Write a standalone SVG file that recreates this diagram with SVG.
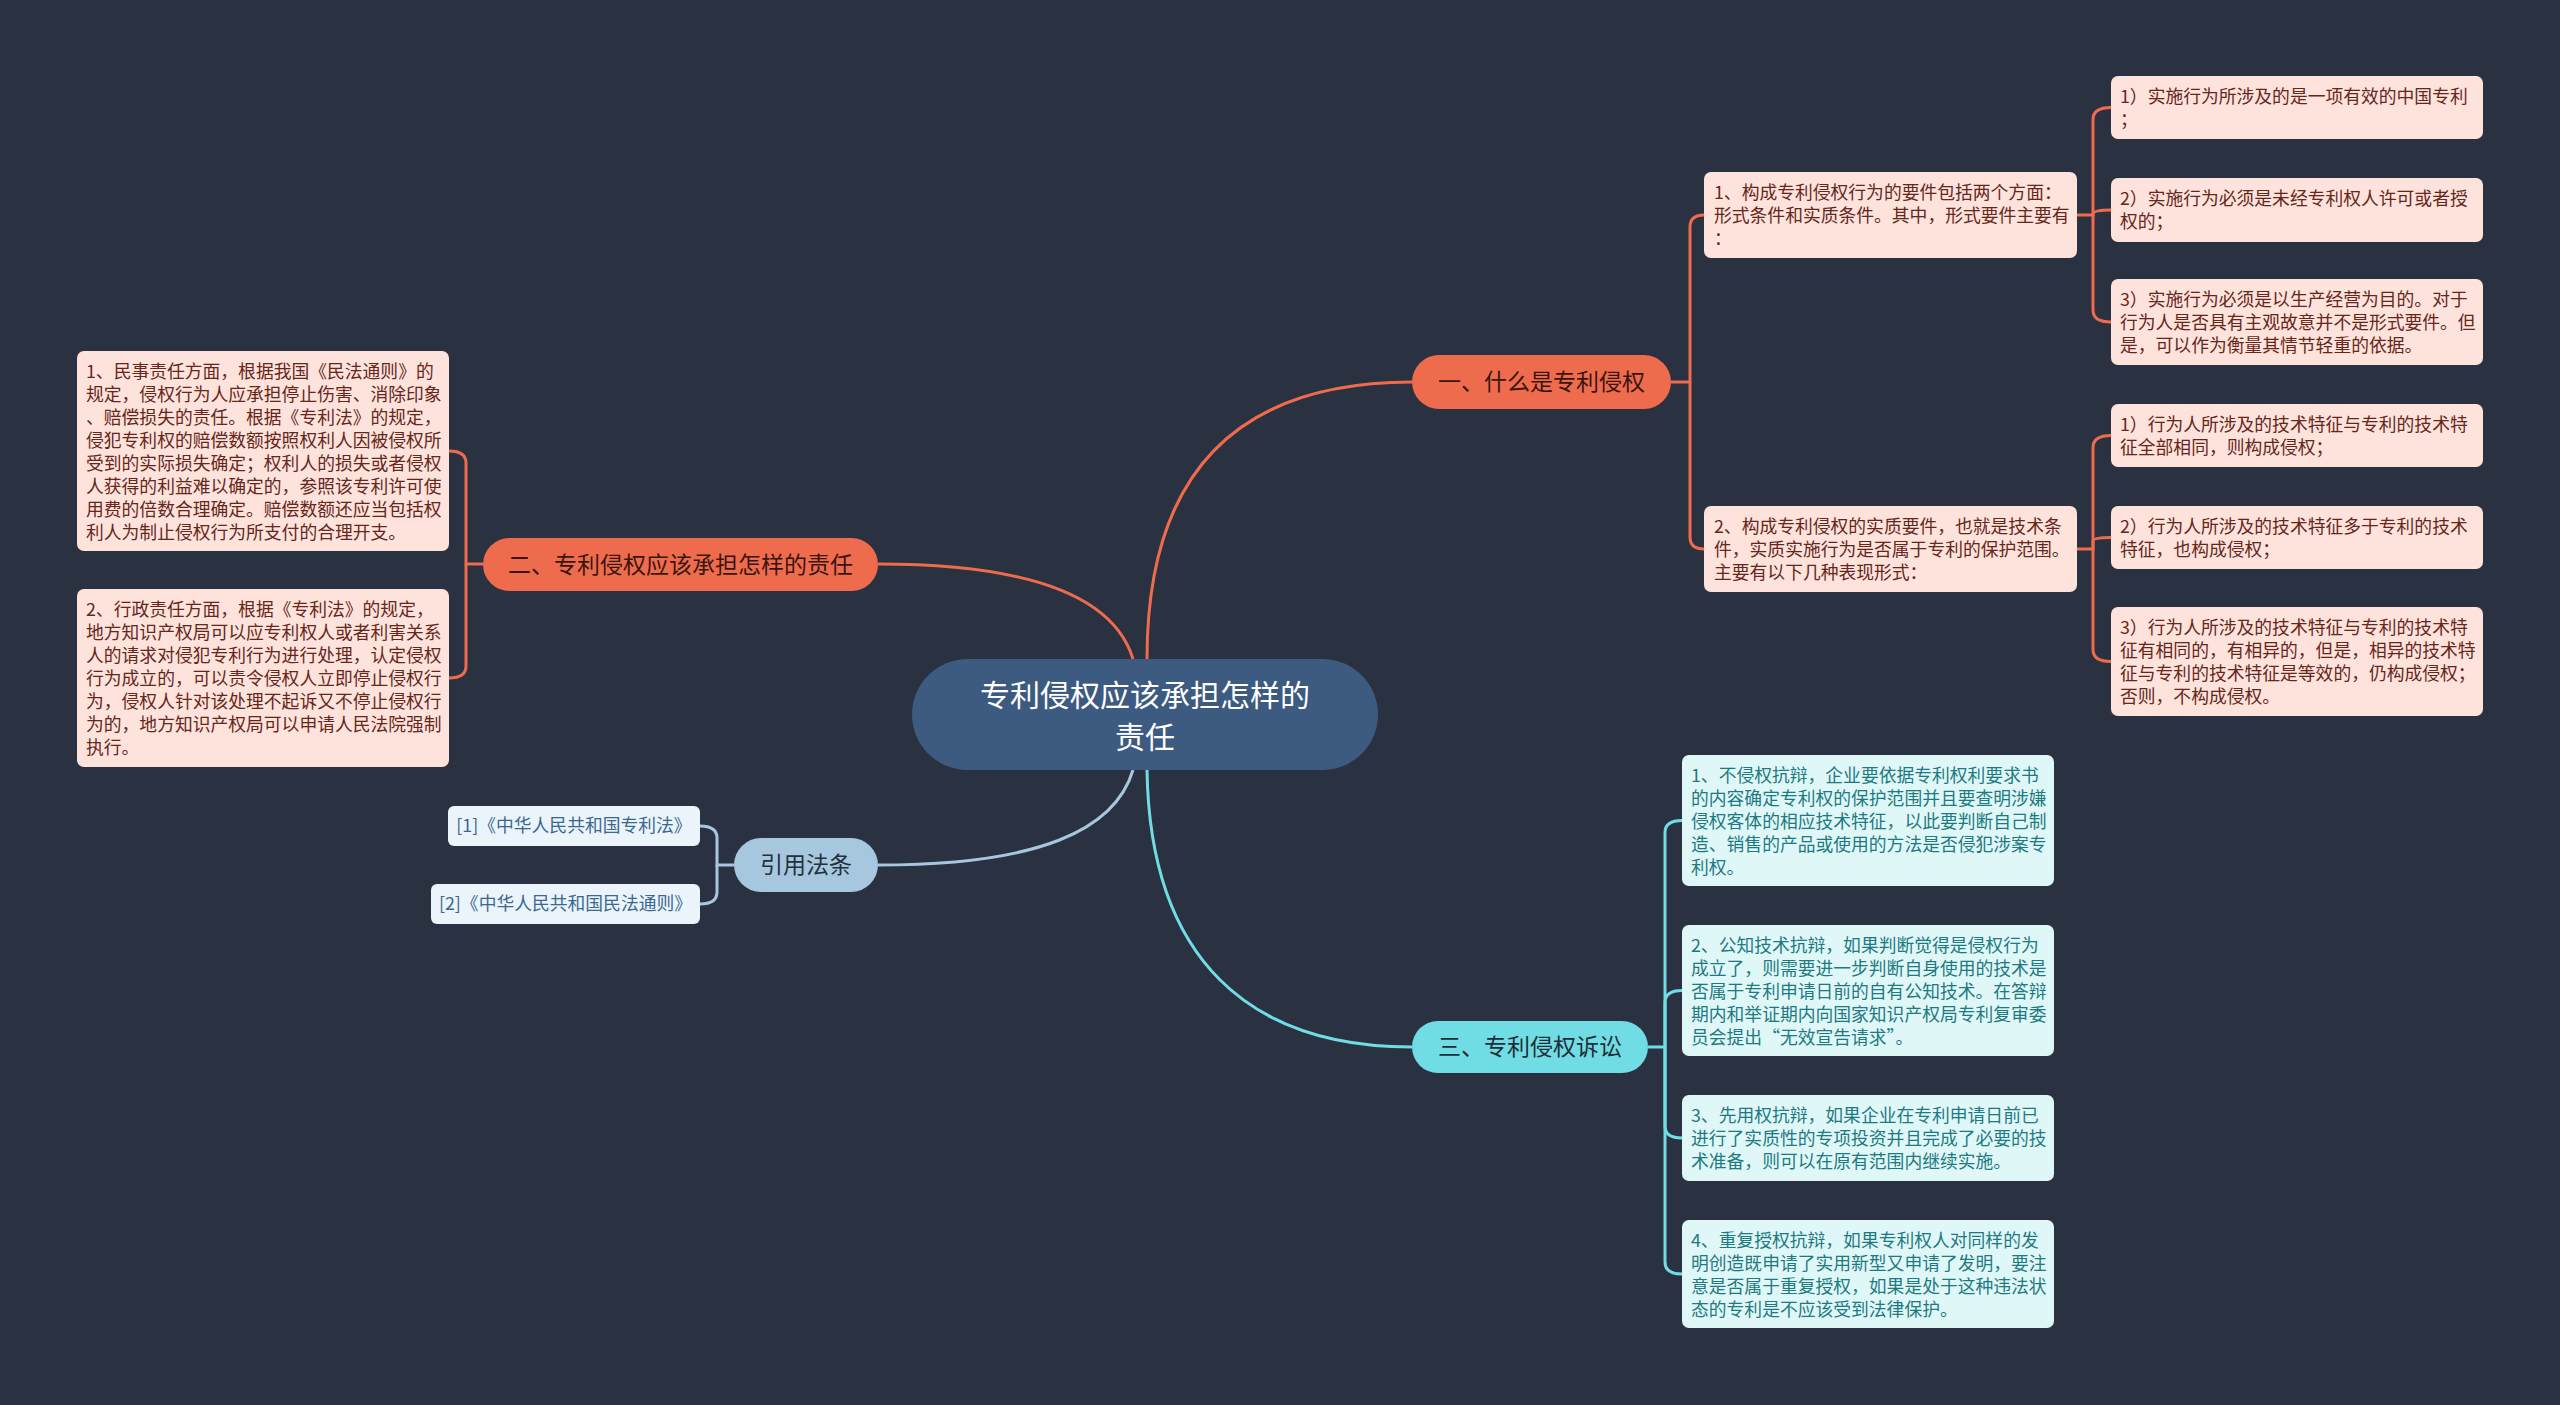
<svg xmlns="http://www.w3.org/2000/svg" width="2560" height="1405" viewBox="0 0 2560 1405">
<style>
text{font-family:"Noto Sans CJK SC","Noto Sans",sans-serif;}
.bg{fill:#2a3141;}
.center{fill:#3d5a80;}
.ctext{fill:#ffffff;font-size:30px;text-anchor:middle;}
.orange{fill:#ee6c4d;}
.otext{fill:#3a1510;font-size:23px;text-anchor:middle;}
.cyan{fill:#6fdde3;}
.cytext{fill:#1f2d3a;font-size:23px;text-anchor:middle;}
.blue{fill:#a6c7de;}
.btext{fill:#22313f;font-size:23px;text-anchor:middle;}
.oleaf{fill:#fde3dc;}
.oltext{fill:#66261a;font-size:17.8px;}
.cleaf{fill:#e0f7f8;}
.cltext{fill:#1c7a81;font-size:17.8px;}
.rleaf{fill:#eaf4fa;}
.rltext{fill:#3a6890;font-size:17.8px;text-anchor:middle;}
.co{fill:none;stroke:#ee6c4d;stroke-width:3;}
.cc{fill:none;stroke:#6fdde3;stroke-width:3;}
.cb{fill:none;stroke:#a6c7de;stroke-width:3;}
</style>
<rect class="bg" x="0" y="0" width="2560" height="1405"/>
<g id="connectors">
  <path class="co" d="M1147,659 C1147,480 1230,382 1412,382"/>
  <path class="co" d="M1133,659 C1115,600 1040,564 878,564"/>
  <path class="cb" d="M1133,770 C1115,830 1040,865 878,865"/>
  <path class="cc" d="M1147,770 C1150,960 1250,1047 1412,1047"/>
  <path class="co" d="M1671,382 H1690 V227 Q1690,215 1704,215"/>
  <path class="co" d="M1690,382 V537 Q1690,549 1704,549"/>
  <path class="co" d="M2077,215 H2093 V119.5 Q2093,107.5 2111,107.5"/>
  <path class="co" d="M2093,215 V214 Q2093,210 2111,210"/>
  <path class="co" d="M2093,215 V310 Q2093,322 2111,322"/>
  <path class="co" d="M2077,549 H2093 V447.5 Q2093,435.5 2111,435.5"/>
  <path class="co" d="M2093,549 V541 Q2093,537.5 2111,537.5"/>
  <path class="co" d="M2093,549 V649.5 Q2093,661.5 2111,661.5"/>
  <path class="co" d="M483,564 H466 V463 Q466,451 449,451"/>
  <path class="co" d="M466,564 V666 Q466,678 449,678"/>
  <path class="cb" d="M734,865 H717 V838 Q717,826 700,826"/>
  <path class="cb" d="M717,865 V892 Q717,904 700,904"/>
  <path class="cc" d="M1648,1047 H1665 V832.5 Q1665,820.5 1682,820.5"/>
  <path class="cc" d="M1665,1047 V1002.5 Q1665,990.5 1682,990.5"/>
  <path class="cc" d="M1665,1047 V1126 Q1665,1138 1682,1138"/>
  <path class="cc" d="M1665,1047 V1262 Q1665,1274 1682,1274"/>
</g>
<g id="center">
  <rect class="center" x="912" y="659" width="466" height="111" rx="55.5"/>
  <text class="ctext" x="1145" y="706">专利侵权应该承担怎样的</text>
  <text class="ctext" x="1145" y="748">责任</text>
</g>
<g id="n1">
  <rect class="orange" x="1412" y="355" width="259" height="54" rx="27"/>
  <text class="otext" x="1541.5" y="390">一、什么是专利侵权</text>
</g>
<g id="n2">
  <rect class="orange" x="483" y="538" width="395" height="53" rx="26.5"/>
  <text class="otext" x="680.5" y="572.5">二、专利侵权应该承担怎样的责任</text>
</g>
<g id="n3">
  <rect class="cyan" x="1412" y="1021" width="236" height="52" rx="26"/>
  <text class="cytext" x="1530" y="1055">三、专利侵权诉讼</text>
</g>
<g id="nref">
  <rect class="blue" x="734" y="838" width="144" height="54" rx="27"/>
  <text class="btext" x="806" y="873">引用法条</text>
</g>
<g id="ref1">
  <rect class="rleaf" x="448" y="806" width="252" height="40" rx="6"/>
  <text class="rltext" x="574" y="832">[1]《中华人民共和国专利法》</text>
</g>
<g id="ref2">
  <rect class="rleaf" x="431" y="884" width="269" height="40" rx="6"/>
  <text class="rltext" x="565.5" y="910">[2]《中华人民共和国民法通则》</text>
</g>
<g id="n1a">
  <rect class="oleaf" x="1704" y="172" width="373" height="86" rx="7"/>
  <text class="oltext" x="1714" y="199">1、构成专利侵权行为的要件包括两个方面：</text>
  <text class="oltext" x="1714" y="222">形式条件和实质条件。其中，形式要件主要有</text>
  <text class="oltext" x="1714" y="245">：</text>
</g>
<g id="n1a1">
  <rect class="oleaf" x="2111" y="76" width="372" height="63" rx="7"/>
  <text class="oltext" x="2120" y="103">1）实施行为所涉及的是一项有效的中国专利</text>
  <text class="oltext" x="2120" y="126">；</text>
</g>
<g id="n1a2">
  <rect class="oleaf" x="2111" y="178" width="372" height="64" rx="7"/>
  <text class="oltext" x="2120" y="205">2）实施行为必须是未经专利权人许可或者授</text>
  <text class="oltext" x="2120" y="228">权的；</text>
</g>
<g id="n1a3">
  <rect class="oleaf" x="2111" y="279" width="372" height="86" rx="7"/>
  <text class="oltext" x="2120" y="306">3）实施行为必须是以生产经营为目的。对于</text>
  <text class="oltext" x="2120" y="329">行为人是否具有主观故意并不是形式要件。但</text>
  <text class="oltext" x="2120" y="352">是，可以作为衡量其情节轻重的依据。</text>
</g>
<g id="n1b">
  <rect class="oleaf" x="1704" y="506" width="373" height="86" rx="7"/>
  <text class="oltext" x="1714" y="533">2、构成专利侵权的实质要件，也就是技术条</text>
  <text class="oltext" x="1714" y="556">件，实质实施行为是否属于专利的保护范围。</text>
  <text class="oltext" x="1714" y="579">主要有以下几种表现形式：</text>
</g>
<g id="n1b1">
  <rect class="oleaf" x="2111" y="404" width="372" height="63" rx="7"/>
  <text class="oltext" x="2120" y="431">1）行为人所涉及的技术特征与专利的技术特</text>
  <text class="oltext" x="2120" y="454">征全部相同，则构成侵权；</text>
</g>
<g id="n1b2">
  <rect class="oleaf" x="2111" y="506" width="372" height="63" rx="7"/>
  <text class="oltext" x="2120" y="533">2）行为人所涉及的技术特征多于专利的技术</text>
  <text class="oltext" x="2120" y="556">特征，也构成侵权；</text>
</g>
<g id="n1b3">
  <rect class="oleaf" x="2111" y="607" width="372" height="109" rx="7"/>
  <text class="oltext" x="2120" y="634">3）行为人所涉及的技术特征与专利的技术特</text>
  <text class="oltext" x="2120" y="657">征有相同的，有相异的，但是，相异的技术特</text>
  <text class="oltext" x="2120" y="680">征与专利的技术特征是等效的，仍构成侵权；</text>
  <text class="oltext" x="2120" y="703">否则，不构成侵权。</text>
</g>
<g id="n2a">
  <rect class="oleaf" x="77" y="351" width="372" height="200" rx="7"/>
  <text class="oltext" x="86" y="378">1、民事责任方面，根据我国《民法通则》的</text>
  <text class="oltext" x="86" y="401">规定，侵权行为人应承担停止伤害、消除印象</text>
  <text class="oltext" x="86" y="424">、赔偿损失的责任。根据《专利法》的规定，</text>
  <text class="oltext" x="86" y="447">侵犯专利权的赔偿数额按照权利人因被侵权所</text>
  <text class="oltext" x="86" y="470">受到的实际损失确定；权利人的损失或者侵权</text>
  <text class="oltext" x="86" y="493">人获得的利益难以确定的，参照该专利许可使</text>
  <text class="oltext" x="86" y="516">用费的倍数合理确定。赔偿数额还应当包括权</text>
  <text class="oltext" x="86" y="539">利人为制止侵权行为所支付的合理开支。</text>
</g>
<g id="n2b">
  <rect class="oleaf" x="77" y="589" width="372" height="178" rx="7"/>
  <text class="oltext" x="86" y="616">2、行政责任方面，根据《专利法》的规定，</text>
  <text class="oltext" x="86" y="639">地方知识产权局可以应专利权人或者利害关系</text>
  <text class="oltext" x="86" y="662">人的请求对侵犯专利行为进行处理，认定侵权</text>
  <text class="oltext" x="86" y="685">行为成立的，可以责令侵权人立即停止侵权行</text>
  <text class="oltext" x="86" y="708">为，侵权人针对该处理不起诉又不停止侵权行</text>
  <text class="oltext" x="86" y="731">为的，地方知识产权局可以申请人民法院强制</text>
  <text class="oltext" x="86" y="754">执行。</text>
</g>
<g id="n3a">
  <rect class="cleaf" x="1682" y="755" width="372" height="131" rx="7"/>
  <text class="cltext" x="1691" y="782">1、不侵权抗辩，企业要依据专利权利要求书</text>
  <text class="cltext" x="1691" y="805">的内容确定专利权的保护范围并且要查明涉嫌</text>
  <text class="cltext" x="1691" y="828">侵权客体的相应技术特征，以此要判断自己制</text>
  <text class="cltext" x="1691" y="851">造、销售的产品或使用的方法是否侵犯涉案专</text>
  <text class="cltext" x="1691" y="874">利权。</text>
</g>
<g id="n3b">
  <rect class="cleaf" x="1682" y="925" width="372" height="131" rx="7"/>
  <text class="cltext" x="1691" y="952">2、公知技术抗辩，如果判断觉得是侵权行为</text>
  <text class="cltext" x="1691" y="975">成立了，则需要进一步判断自身使用的技术是</text>
  <text class="cltext" x="1691" y="998">否属于专利申请日前的自有公知技术。在答辩</text>
  <text class="cltext" x="1691" y="1021">期内和举证期内向国家知识产权局专利复审委</text>
  <text class="cltext" x="1691" y="1044">员会提出“无效宣告请求”。</text>
</g>
<g id="n3c">
  <rect class="cleaf" x="1682" y="1095" width="372" height="86" rx="7"/>
  <text class="cltext" x="1691" y="1122">3、先用权抗辩，如果企业在专利申请日前已</text>
  <text class="cltext" x="1691" y="1145">进行了实质性的专项投资并且完成了必要的技</text>
  <text class="cltext" x="1691" y="1168">术准备，则可以在原有范围内继续实施。</text>
</g>
<g id="n3d">
  <rect class="cleaf" x="1682" y="1220" width="372" height="108" rx="7"/>
  <text class="cltext" x="1691" y="1247">4、重复授权抗辩，如果专利权人对同样的发</text>
  <text class="cltext" x="1691" y="1270">明创造既申请了实用新型又申请了发明，要注</text>
  <text class="cltext" x="1691" y="1293">意是否属于重复授权，如果是处于这种违法状</text>
  <text class="cltext" x="1691" y="1316">态的专利是不应该受到法律保护。</text>
</g>
</svg>
